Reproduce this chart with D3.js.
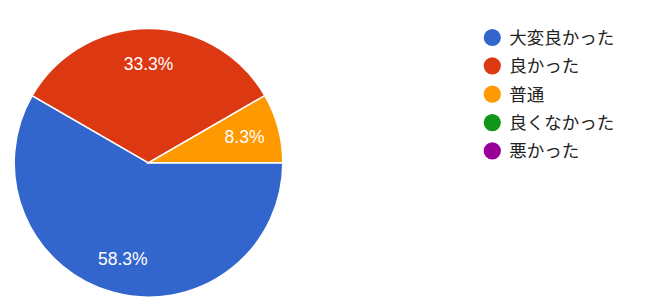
<!DOCTYPE html>
<html>
<head>
<meta charset="utf-8">
<script src="https://cdn.jsdelivr.net/npm/d3@7"></script>
<style>
  html, body { margin: 0; padding: 0; background: #fff; }
  svg { display: block; }
</style>
</head>
<body>
<svg id="chart"></svg>
<script>
// answers (legend order) and how many picked each one
var categories = ['大変良かった', '良かった', '普通', '良くなかった', '悪かった'];
var counts     = [7, 4, 1, 0, 0];
var colors     = ['#3366cc', '#dc3912', '#ff9900', '#109618', '#990099'];

var width = 647, height = 306;
var cx = 148.5, cy = 162.8, radius = 134.3;

var svg = d3.select('#chart')
  .attr('width', width)
  .attr('height', height);

var total = d3.sum(counts);

var data = categories.map(function(c, i) {
  return { name: c, value: counts[i], color: colors[i] };
});

// pie starts at 3 o'clock and runs clockwise
var pie = d3.pie()
  .sort(null)
  .value(function(d) { return d.value; })
  .startAngle(Math.PI / 2)
  .endAngle(Math.PI / 2 + 2 * Math.PI);

var arc = d3.arc().innerRadius(0).outerRadius(radius);
var labelArc = d3.arc().innerRadius(radius * 0.74).outerRadius(radius * 0.74);

var g = svg.append('g').attr('transform', 'translate(' + cx + ',' + cy + ')');

var slices = pie(data).filter(function(d) { return d.value > 0; });

g.selectAll('path')
  .data(slices)
  .enter().append('path')
  .attr('d', arc)
  .attr('fill', function(d) { return d.data.color; })
  .attr('stroke', '#fff')
  .attr('stroke-width', 1.5);

g.selectAll('text')
  .data(slices)
  .enter().append('text')
  .attr('transform', function(d) { return 'translate(' + labelArc.centroid(d) + ')'; })
  .attr('text-anchor', 'middle')
  .attr('dy', '0.36em')
  .attr('fill', '#fff')
  .style('font-family', 'Arial, "Liberation Sans", sans-serif')
  .style('font-size', '17.5px')
  .text(function(d) { return (d.value / total * 100).toFixed(1) + '%'; });

// legend
var legend = svg.append('g').attr('transform', 'translate(492.3,37.5)');
var step = 28.35;

var item = legend.selectAll('g')
  .data(data)
  .enter().append('g')
  .attr('transform', function(d, i) { return 'translate(0,' + (i * step) + ')'; });

item.append('circle')
  .attr('r', 8.6)
  .attr('fill', function(d) { return d.color; });

item.append('text')
  .attr('x', 17)
  .attr('dy', '0.36em')
  .attr('fill', '#222')
  .style('font-family', '"Noto Sans CJK JP", "Noto Sans", sans-serif')
  .style('font-size', '17.5px')
  .text(function(d) { return d.name; });
</script>
</body>
</html>
